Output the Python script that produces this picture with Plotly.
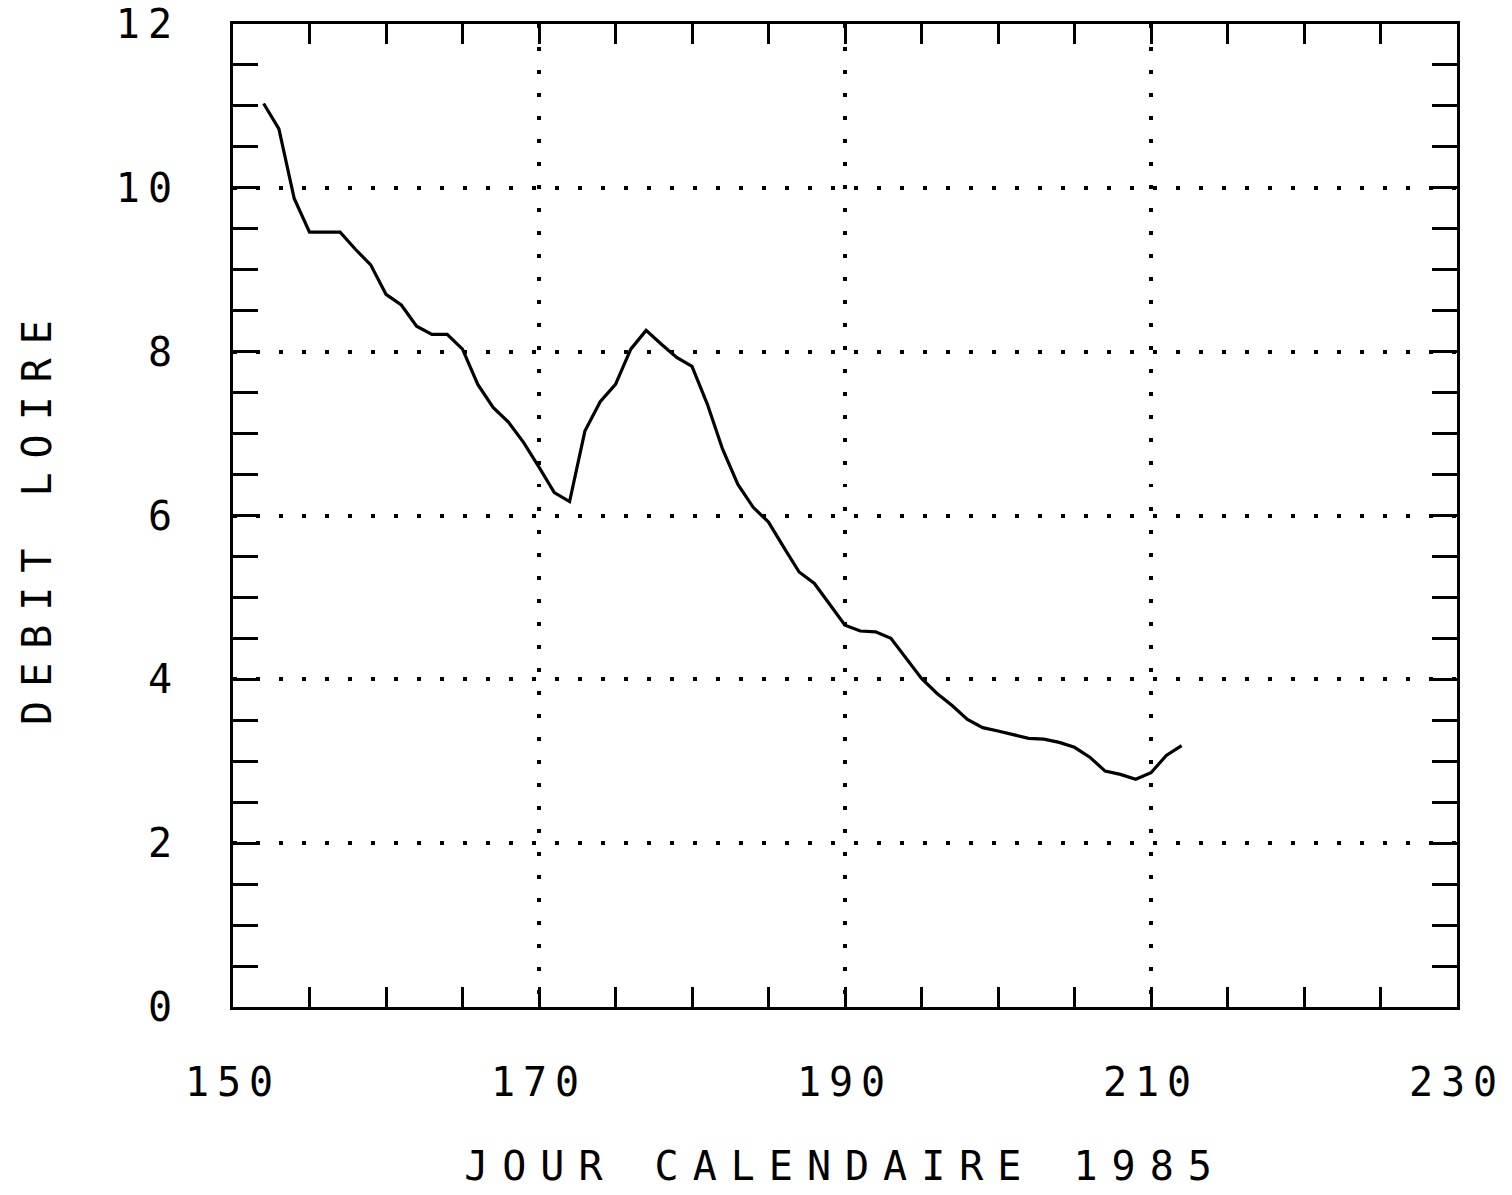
import plotly.graph_objects as go

days = list(range(152, 213))
debit = [11.03, 10.72, 9.87, 9.46, 9.46, 9.46, 9.25, 9.06, 8.70, 8.57,
         8.31, 8.21, 8.21, 8.03, 7.60, 7.32, 7.14, 6.89, 6.59, 6.28,
         6.17, 7.03, 7.39, 7.60, 8.03, 8.26, 8.09, 7.93, 7.82, 7.36,
         6.81, 6.38, 6.10, 5.92, 5.61, 5.31, 5.17, 4.91, 4.66, 4.59,
         4.58, 4.50, 4.26, 4.01, 3.83, 3.68, 3.51, 3.41, 3.37, 3.33,
         3.28, 3.27, 3.23, 3.17, 3.05, 2.88, 2.84, 2.78, 2.86, 3.07, 3.19]

x_ticks = [150, 170, 190, 210, 230]
y_ticks = [0, 2, 4, 6, 8, 10, 12]
x_title = "JOUR CALENDAIRE 1985"
y_title = "DEBIT LOIRE"

FONT = "DejaVu Sans Mono"


def spaced(s, px):
    return f'<span style="letter-spacing:{px}px">{s}</span>'


fig = go.Figure()
fig.add_trace(go.Scatter(x=days, y=debit, mode="lines",
                         line=dict(color="black", width=3.2),
                         showlegend=False, hoverinfo="skip"))

axis_common = dict(
    showline=True, linecolor="black", linewidth=3, mirror="ticks",
    ticks="inside", tickcolor="black", tickwidth=2.5,
    showgrid=True, gridcolor="black", gridwidth=3.5, griddash="3.5px,19.5px",
    zeroline=False, automargin=False,
    tickfont=dict(family=FONT, size=40, color="black"),
)

fig.update_xaxes(
    range=[150, 230], tickmode="array", tickvals=x_ticks,
    ticktext=[spaced(str(v), 8) for v in x_ticks],
    ticklen=20,
    minor=dict(dtick=5, tick0=150, ticks="inside", ticklen=20,
               tickcolor="black", tickwidth=2.5, showgrid=False),
    ticklabelstandoff=38,
    title=dict(text=spaced(x_title, 14),
               font=dict(family=FONT, size=40, color="black"), standoff=48),
    **axis_common,
)
fig.update_yaxes(
    range=[0, 12], tickmode="array", tickvals=y_ticks,
    ticktext=[spaced(str(v), 8) for v in y_ticks],
    ticklen=25,
    minor=dict(dtick=0.5, tick0=0, ticks="inside", ticklen=25,
               tickcolor="black", tickwidth=2.5, showgrid=False),
    ticklabelstandoff=42,
    title=dict(text=spaced(y_title, 14),
               font=dict(family=FONT, size=40, color="black"), standoff=52),
    **axis_common,
)

fig.update_layout(
    width=1512, height=1195,
    margin=dict(l=233, r=55, t=24, b=188),
    paper_bgcolor="white", plot_bgcolor="white",
)

fig.write_html("out.html")
